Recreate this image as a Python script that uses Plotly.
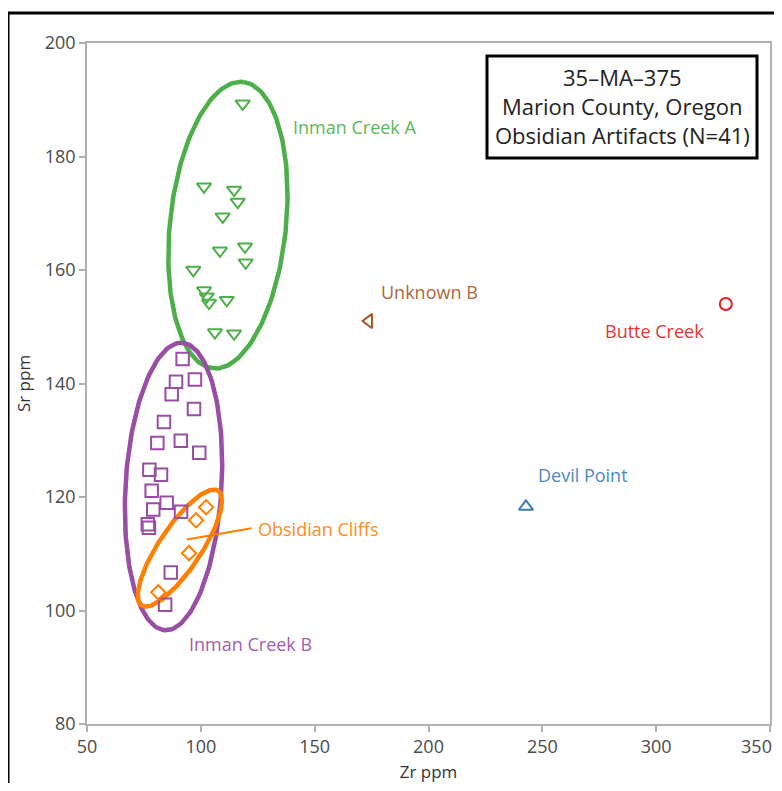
import numpy as np
import plotly.graph_objects as go

# ---------------- data ----------------
inman_a_zr = [118.4, 101.4, 114.6, 116.2, 109.6, 108.4, 119.4, 119.7, 96.7, 101.4, 102.6, 103.6, 111.4, 106.2, 114.6]
inman_a_sr = [189.3, 174.7, 174.1, 172.0, 169.4, 163.4, 164.1, 161.3, 160.0, 156.4, 155.3, 154.2, 154.7, 149.0, 148.8]

inman_b_zr = [92.0, 89.1, 97.4, 87.2, 97.0, 83.8, 80.9, 91.2, 99.3, 77.4, 82.5, 78.4, 79.1, 85.0, 91.3, 76.7, 77.2, 86.8, 84.3]
inman_b_sr = [144.3, 140.3, 140.7, 138.1, 135.5, 133.2, 129.5, 129.9, 127.8, 124.8, 123.9, 121.1, 117.8, 119.0, 117.4, 115.2, 114.6, 106.7, 101.0]

obs_cliffs_zr = [102.3, 97.9, 94.8, 81.3]
obs_cliffs_sr = [118.2, 115.9, 110.1, 103.2]

unknown_b_zr = [173.8]
unknown_b_sr = [151.0]

butte_creek_zr = [330.6]
butte_creek_sr = [154.0]

devil_point_zr = [242.8]
devil_point_sr = [118.3]

x_ticks = [50, 100, 150, 200, 250, 300, 350]
y_ticks = [80, 100, 120, 140, 160, 180, 200]

title_lines = ["35–MA–375", "Marion County, Oregon", "Obsidian Artifacts (N=41)"]

# ---------------- styling ----------------
GREEN = "#4daf4a"
PURPLE = "#984ea3"
ORANGE = "#ff7f00"
RED = "#e41a1c"
BLUE = "#377eb8"
BROWN = "#a65628"
FONT = "Open Sans"

OFF = 8  # page body margin
W, H = 782 - OFF, 791 - 2 * OFF
ML, MT = 87 - OFF, 43 - OFF
PR, PB = 770 - OFF, 724 - OFF
MR, MB = W - PR, H - PB
PW, PH = PR - ML, PB - MT
XR, YR = (50, 350), (80, 200)
PXX = PW / (XR[1] - XR[0])
PXY = PH / (YR[1] - YR[0])

fig = go.Figure()

def add_pts(x, y, sym, color, size, name):
    fig.add_trace(go.Scatter(
        x=x, y=y, mode="markers", name=name,
        marker=dict(symbol=sym, size=size, color=color,
                    line=dict(color=color, width=2)),
        showlegend=False, hoverinfo="x+y+name"))

def ellipse(cx, cy, a_px, b_px, tilt_deg, color, width):
    t = np.linspace(0, 2 * np.pi, 181)
    th = np.radians(tilt_deg)
    u = a_px * np.cos(t)
    v = b_px * np.sin(t)
    dx = u * np.sin(th) + v * np.cos(th)
    dy = u * np.cos(th) - v * np.sin(th)
    xs = cx + dx / PXX
    ys = cy + dy / PXY
    fig.add_trace(go.Scatter(x=xs, y=ys, mode="lines",
                             line=dict(color=color, width=width),
                             showlegend=False, hoverinfo="skip"))

ellipse(111.9, 167.9, 144, 58, 6, GREEN, 4.5)
ellipse(88.0, 121.85, 144, 48, 3.4, PURPLE, 4.5)
ellipse(90.8, 111.0, 69, 21, 33.7, ORANGE, 4.5)

add_pts(inman_a_zr, inman_a_sr, "triangle-down-open", GREEN, 12.5, "Inman Creek A")
add_pts(inman_b_zr, inman_b_sr, "square-open", PURPLE, 12.5, "Inman Creek B")
add_pts(obs_cliffs_zr, obs_cliffs_sr, "diamond-open", ORANGE, 11, "Obsidian Cliffs")
add_pts(unknown_b_zr, unknown_b_sr, "triangle-left-open", BROWN, 12.5, "Unknown B")
add_pts(butte_creek_zr, butte_creek_sr, "circle-open", RED, 12, "Butte Creek")
add_pts(devil_point_zr, devil_point_sr, "triangle-up-open", BLUE, 12.5, "Devil Point")

# pointer line for Obsidian Cliffs
fig.add_trace(go.Scatter(x=[93.8, 122.3], y=[112.5, 114.5], mode="lines",
                         line=dict(color=ORANGE, width=2),
                         showlegend=False, hoverinfo="skip"))

labels = [
    ("Inman Creek A", 140.5, 185.2, GREEN),
    ("Unknown B", 179.1, 156.1, BROWN),
    ("Butte Creek", 277.5, 149.3, RED),
    ("Devil Point", 248.1, 123.9, BLUE),
    ("Obsidian Cliffs", 125.1, 114.4, ORANGE),
    ("Inman Creek B", 94.8, 94.1, PURPLE),
]
annotations = []
for txt, x, y, c in labels:
    annotations.append(dict(text=txt, x=x, y=y, xref="x", yref="y",
                            xanchor="left", yanchor="middle", showarrow=False,
                            xshift=-2,
                            font=dict(family=FONT, size=18, color=c), opacity=0.9))

def px2paper_x(px):
    return (px - OFF - ML) / PW

def px2paper_y(py):
    return (PB - (py - OFF)) / PH

# title box text
for i, line in enumerate(title_lines):
    annotations.append(dict(text=line, x=px2paper_x(622), y=px2paper_y(77 + 29 * i),
                            xref="paper", yref="paper", xanchor="center", yanchor="middle",
                            showarrow=False, font=dict(family=FONT, size=22, color="#222222")))

shapes = [
    # title box
    dict(type="rect", xref="paper", yref="paper",
         x0=px2paper_x(487), x1=px2paper_x(757), y0=px2paper_y(158), y1=px2paper_y(56),
         line=dict(color="black", width=3), fillcolor="white", layer="above"),
    # outer frame (extends beyond canvas on right/bottom)
    dict(type="rect", xref="paper", yref="paper",
         x0=px2paper_x(8), x1=px2paper_x(800), y0=px2paper_y(810), y1=px2paper_y(13),
         line=dict(color="black", width=3), fillcolor="rgba(0,0,0,0)", layer="above"),
]

# keep the last x label inside the canvas (pad it on the right)
x_ticktext = [str(v) for v in x_ticks]
x_ticktext[-1] = x_ticktext[-1] + "\u2003\u2002"

axis_common = dict(showgrid=False, zeroline=False, showline=True, mirror=True,
                   linecolor="#b0b0b0", linewidth=1.5, ticks="outside", ticklen=6,
                   tickcolor="#b0b0b0", tickwidth=1.5, ticklabeloverflow="allow",
                   automargin=False,
                   tickfont=dict(family=FONT, size=18, color="#4a4a4a"))

fig.update_layout(
    width=W, height=H, autosize=False,
    margin=dict(l=ML, r=MR, t=MT, b=MB, autoexpand=False),
    paper_bgcolor="white", plot_bgcolor="white",
    xaxis=dict(range=list(XR), tickvals=x_ticks, ticktext=x_ticktext,
               title=dict(text="Zr ppm", font=dict(family=FONT, size=17, color="#333333"), standoff=10),
               **axis_common),
    yaxis=dict(range=list(YR), tickvals=y_ticks, ticktext=[str(v) for v in y_ticks],
               title=dict(text="Sr ppm", font=dict(family=FONT, size=17, color="#333333"), standoff=10),
               **axis_common),
    annotations=annotations,
    shapes=shapes,
)

fig.write_html("out.html")
